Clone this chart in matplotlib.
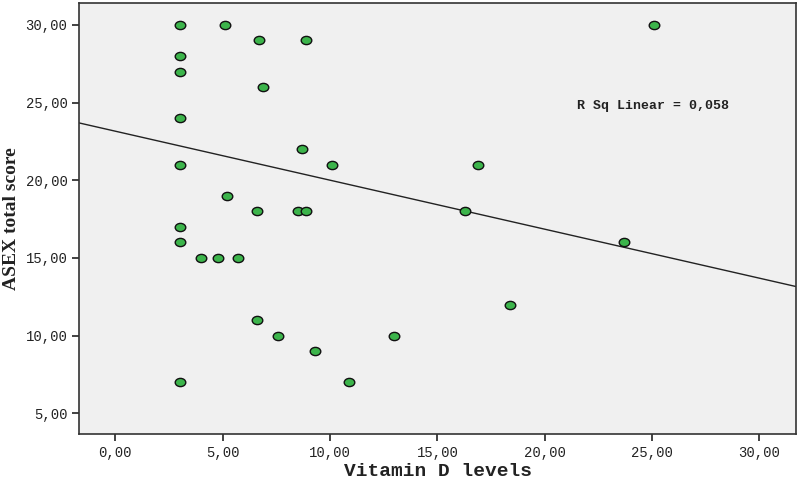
import numpy as np
import matplotlib
matplotlib.use("Agg")
from matplotlib import pyplot as plt
from matplotlib.ticker import FuncFormatter
from matplotlib.path import Path
from matplotlib.transforms import Affine2D

# Vitamin D levels vs ASEX total score
vit_d = [3, 3, 3, 3, 3, 3, 3, 3,
         5.1, 6.7, 8.9, 6.9, 8.7, 10.1, 16.9, 5.2, 6.6, 8.5, 8.9, 16.3,
         23.7, 25.1, 4.0, 4.8, 5.7, 6.6, 7.6, 9.3, 13.0, 18.4, 10.9]
asex = [30, 28, 27, 24, 21, 17, 16, 7,
        30, 29, 29, 26, 22, 21, 21, 19, 18, 18, 18, 18,
        16, 30, 15, 15, 15, 11, 10, 9, 10, 12, 7]

fit_intercept = 23.16
fit_slope = -0.3155

x_ticks = [0, 5, 10, 15, 20, 25, 30]
y_ticks = [5, 10, 15, 20, 25, 30]
r_sq_text = "R Sq Linear = 0,058"

mono = "Liberation Mono"

fig = plt.figure(figsize=(8, 4.8), dpi=100)
ax = fig.add_axes([0.099, 0.096, 0.896, 0.898])
ax.set_facecolor("#f0f0f0")

xlim = (-1.68, 31.7)
ax.set_xlim(*xlim)
ax.set_ylim(3.67, 31.42)

xs = np.array(xlim)
ax.plot(xs, fit_intercept + fit_slope * xs, color="#222222", lw=1.0, zorder=2)

# slightly flattened dots like the SPSS output
oval = Path.unit_circle().transformed(Affine2D().scale(1.0, 0.78))
ax.plot(vit_d, asex, linestyle="none", marker=oval, ms=7.6, mfc="#3cb44b",
        mec="#111111", mew=1.0, zorder=3)

ax.text(21.5, 24.8, r_sq_text, fontfamily=mono, fontsize=9.5, fontweight="bold",
        va="center", ha="left", color="#222222")

fmt = FuncFormatter(lambda v, p: ("%.2f" % v).replace(".", ","))
ax.set_xticks(x_ticks)
ax.set_yticks(y_ticks)
ax.xaxis.set_major_formatter(fmt)
ax.yaxis.set_major_formatter(fmt)
ax.tick_params(direction="out", length=5, width=1.2, color="#222222",
               labelsize=10, labelcolor="#222222")
for lab in ax.get_xticklabels() + ax.get_yticklabels():
    lab.set_fontfamily(mono)

for s in ax.spines.values():
    s.set_color("#333333")
    s.set_linewidth(1.2)

ax.set_xlabel("Vitamin D levels", fontfamily=mono, fontsize=14, fontweight="bold",
              color="#222222", labelpad=2)
ax.set_ylabel("ASEX total score", fontfamily="Liberation Serif", fontsize=14,
              fontweight="bold", color="#222222", labelpad=4)

fig.savefig("out.png", dpi=100)
